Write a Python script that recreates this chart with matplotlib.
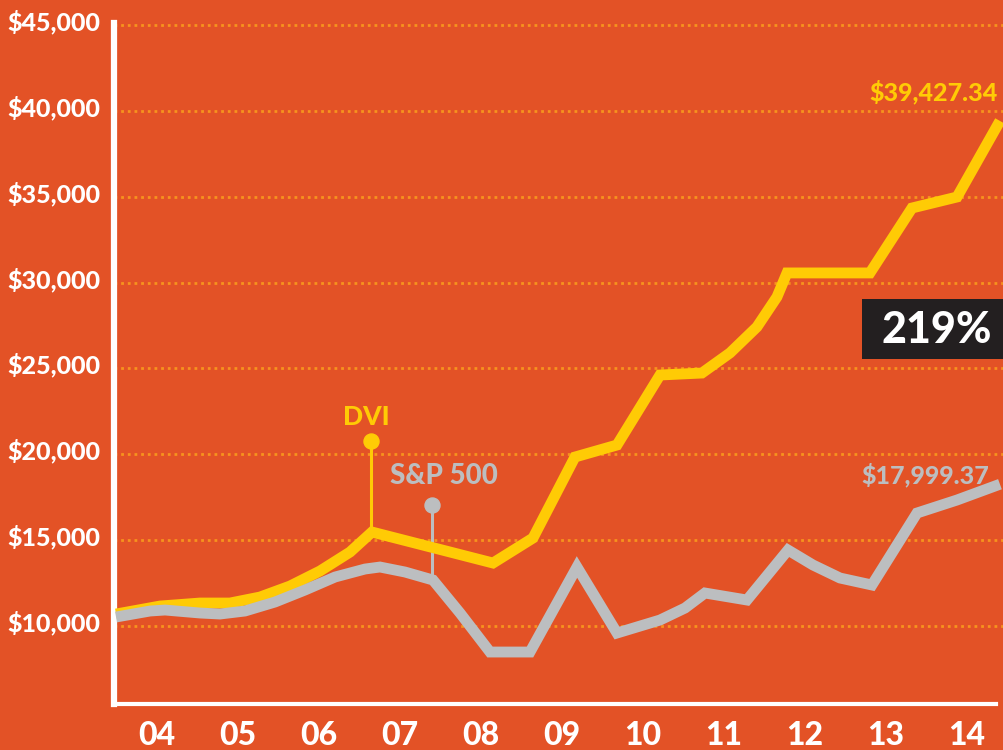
import matplotlib.pyplot as plt
from matplotlib.patches import Rectangle
from matplotlib.transforms import ScaledTranslation

# colours
BG = '#E35226'
GRID = '#F7931E'
YELLOW = '#FFCB05'
GREY = '#BCBEC0'
DARK = '#231F20'

plt.rcParams['font.family'] = ['Lato', 'DejaVu Sans']
plt.rcParams['font.weight'] = 900

# DVI growth of $10,000
dvi_years = [2003.494, 2004.037, 2004.531, 2004.901, 2005.272, 2005.642, 2006.012, 2006.383,
             2006.654, 2008.148, 2008.642, 2009.160, 2009.679, 2010.210, 2010.728, 2011.074,
             2011.407, 2011.654, 2011.778, 2012.802, 2013.321, 2013.877, 2014.407]
dvi_values = [10682, 11148, 11323, 11323, 11673, 12314, 13189, 14296,
              15462, 13655, 15112, 19834, 20534, 24614, 24731, 25902,
              27418, 29166, 30565, 30565, 34350, 34992, 39427]

# S&P 500 growth of $10,000
sp_years = [2003.494, 2003.914, 2004.099, 2004.531, 2004.778, 2005.086, 2005.457, 2005.827,
            2006.198, 2006.568, 2006.753, 2007.062, 2007.407, 2007.741, 2008.111, 2008.605,
            2009.185, 2009.679, 2010.210, 2010.519, 2010.765, 2011.284, 2011.790, 2012.099,
            2012.432, 2012.827, 2013.383, 2013.877, 2014.407]
sp_values = [10507, 10857, 10915, 10741, 10682, 10857, 11382, 12081,
             12839, 13305, 13422, 13130, 12664, 10741, 8467, 8467,
             13422, 9574, 10332, 11032, 11907, 11498, 14413, 13539,
             12781, 12373, 16570, 17328, 18250]

y_ticks = [10000, 15000, 20000, 25000, 30000, 35000, 40000, 45000]
x_ticks = [2004, 2005, 2006, 2007, 2008, 2009, 2010, 2011, 2012, 2013, 2014]
x_labels = ['04', '05', '06', '07', '08', '09', '10', '11', '12', '13', '14']

dvi_marker = (2006.642, 20767)
sp_marker = (2007.395, 17037)
sp_marker_end = 12664

fig = plt.figure(figsize=(10.04, 7.5), dpi=100, facecolor=BG)
ax = fig.add_axes([0.11355, 0.0609, 0.88645, 0.9084])
ax.set_facecolor(BG)
ax.set_xlim(2003.469, 2014.457)
ax.set_ylim(5418, 45134)

for v in y_ticks:
    ax.axhline(v, color=GRID, lw=2.0, ls=(0, (1, 1.4)), zorder=1)

# marker stems
ax.plot([dvi_marker[0], dvi_marker[0]], [dvi_marker[1], max(dvi_values[:10])], color=YELLOW, lw=2.2, zorder=2)
ax.plot(*dvi_marker, 'o', color=YELLOW, ms=10.8, zorder=2)
ax.plot([sp_marker[0], sp_marker[0]], [sp_marker[1], sp_marker_end], color=GREY, lw=2.2, zorder=2)
ax.plot(*sp_marker, 'o', color=GREY, ms=10.8, zorder=2)

ax.plot(dvi_years, dvi_values, color=YELLOW, lw=7.8, solid_joinstyle='miter',
        solid_capstyle='butt', zorder=3, clip_on=False)
ax.plot(sp_years, sp_values, color=GREY, lw=7.8, solid_joinstyle='miter',
        solid_capstyle='butt', zorder=4, clip_on=False)

ax.text(2006.58, 22170, 'DVI', color=YELLOW, fontsize=19, ha='center', va='center')
ax.text(2007.543, 18727, 'S&P 500', color=GREY, fontsize=20, ha='center', va='center')

fig.text(998 / 1004, 1 - 92 / 750, '$39,427.34', color=YELLOW, fontsize=18, ha='right', va='center')
fig.text(989 / 1004, 1 - 475 / 750, '$17,999.37', color=GREY, fontsize=18, ha='right', va='center')

fig.patches.append(Rectangle((862 / 1004, 1 - 359 / 750), 142 / 1004, 60 / 750,
                             transform=fig.transFigure, facecolor=DARK, edgecolor='none'))
fig.text(937 / 1004, 1 - 330 / 750, '219%', color='white', fontsize=31, ha='center', va='center')

# axes
ax.set_yticks(y_ticks, labels=[f'${v:,}' for v in y_ticks])
ax.set_xticks(x_ticks, labels=x_labels)
ax.tick_params(axis='y', length=0, pad=10, labelsize=18, labelcolor='white')
ax.tick_params(axis='x', length=0, pad=12, labelsize=23, labelcolor='white')
shift = ScaledTranslation(0, 5 / 100, fig.dpi_scale_trans)
for lab in ax.get_yticklabels():
    lab.set_transform(lab.get_transform() + shift)

for s in ['top', 'right']:
    ax.spines[s].set_visible(False)
ax.spines['left'].set_color('white')
ax.spines['left'].set_linewidth(4.5)
ax.spines['bottom'].set_color('white')
ax.spines['bottom'].set_linewidth(3)
ax.spines['bottom'].set_bounds(2003.469, 2014.358)

fig.savefig('out.png', dpi=100, facecolor=BG)
